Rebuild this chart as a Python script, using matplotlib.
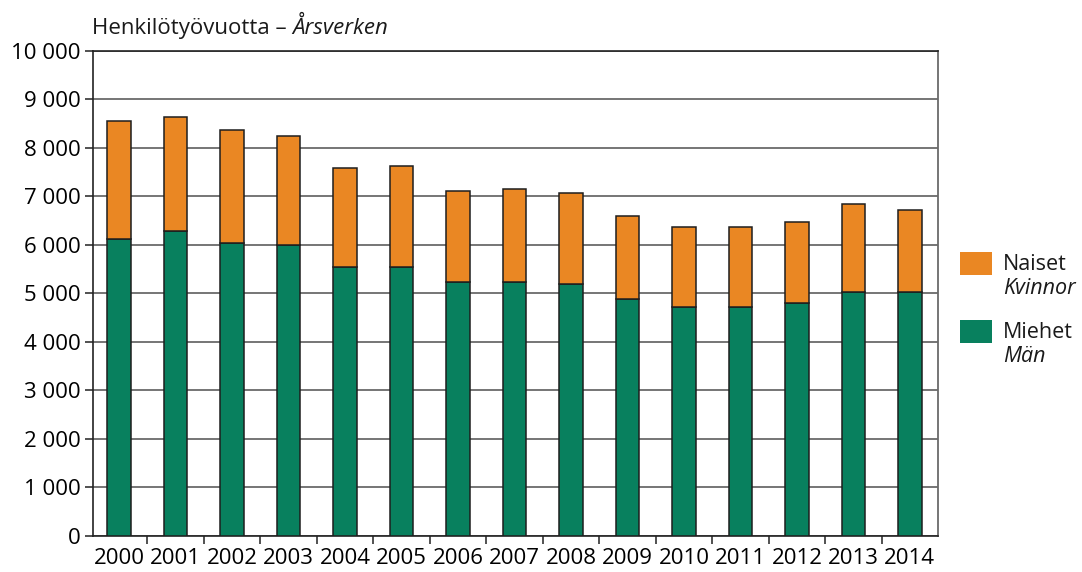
import numpy as np
import matplotlib.pyplot as plt
from matplotlib.patches import Rectangle

plt.rcParams['font.family'] = ['Open Sans', 'DejaVu Sans']

# Henkilötyövuodet sukupuolen mukaan
years = ['2000', '2001', '2002', '2003', '2004', '2005', '2006', '2007',
         '2008', '2009', '2010', '2011', '2012', '2013', '2014']
men = [6130, 6280, 6050, 6000, 5550, 5550, 5230, 5230,
       5190, 4880, 4730, 4730, 4800, 5030, 5030]
total = [8550, 8630, 8360, 8240, 7580, 7620, 7110, 7150,
         7070, 6600, 6360, 6360, 6480, 6840, 6710]
women = [t - m for t, m in zip(total, men)]
yticks = np.arange(0, 10001, 1000)

orange = '#EA8723'
green = '#08805E'
edge = '#1e1e1e'

fig = plt.figure(figsize=(10.82, 5.72), dpi=100)
ax = fig.add_axes([0.086, 0.063, 0.781, 0.848])

x = np.arange(len(years))
ax.bar(x, men, width=0.415, color=green, edgecolor=edge, linewidth=1.1, zorder=3)
ax.bar(x, women, width=0.415, bottom=men, color=orange, edgecolor=edge,
       linewidth=1.1, zorder=3)

ax.set_xlim(-0.46, 14.5)
ax.set_ylim(0, 10000)
ax.set_yticks(yticks)
ax.set_yticklabels([f'{v:,}'.replace(',', ' ') for v in yticks], fontsize=16)
ax.set_xticks(x)
ax.set_xticklabels(years, fontsize=16)
ax.set_xticks(np.arange(0.5, 14, 1), minor=True)
ax.tick_params(axis='x', which='major', length=0, pad=9)
ax.tick_params(axis='x', which='minor', length=6, width=1.2, color='#333333')
ax.tick_params(axis='y', length=6, width=1.2, color='#333333', pad=3)

ax.yaxis.grid(True, color='#6a6a6a', linewidth=1.3, zorder=0)
ax.set_axisbelow(True)
for side in ['left', 'bottom', 'top']:
    ax.spines[side].set_color('#222222')
    ax.spines[side].set_linewidth(1.2)
ax.spines['right'].set_color('#6a6a6a')
ax.spines['right'].set_linewidth(1.3)

# Otsikko
t1 = fig.text(0.085, 0.951, 'Henkilötyövuotta – ', fontsize=16, va='center',
              ha='left', color='#1a1a1a')
ax.annotate('Årsverken', xy=(1, 0), xycoords=t1, va='bottom', ha='left',
            fontsize=16, style='italic', color='#1a1a1a', annotation_clip=False)

# Selite
W, H = 1082, 572
legend_items = [(orange, 'Naiset', 'Kvinnor', 252),
                (green, 'Miehet', 'Män', 320)]
for col, fi, sv, ytop in legend_items:
    fig.patches.append(Rectangle((960 / W, 1 - (ytop + 23) / H), 32 / W, 23 / H,
                                 transform=fig.transFigure, facecolor=col,
                                 edgecolor='none'))
    fig.text(1003 / W, 1 - (ytop + 12) / H, fi, fontsize=15.5, va='center',
             ha='left', color='#1a1a1a')
    fig.text(1003 / W, 1 - (ytop + 37) / H, sv, fontsize=15.5, va='center',
             ha='left', style='italic', color='#1a1a1a')

fig.savefig('out.png', dpi=100)
